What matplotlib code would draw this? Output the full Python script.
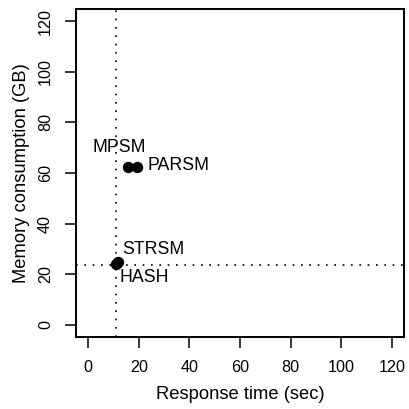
import matplotlib
matplotlib.use("Agg")
import matplotlib.pyplot as plt

plt.rcParams['font.family'] = ['Liberation Sans', 'DejaVu Sans']

names = ["MPSM", "PARSM", "STRSM", "HASH"]
resp_time = [15.9, 19.2, 11.8, 11.0]
memory = [62.5, 62.5, 25.0, 24.0]
# label offsets in points (dx, dy) and alignment
label_pos = {
    "MPSM": (-6.5, 14, "center"),
    "PARSM": (8, 1, "left"),
    "STRSM": (3, 8.5, "left"),
    "HASH": (2.5, -10, "left"),
}
ref_x = 10.9
ref_y = 23.7
xticks = [0, 20, 40, 60, 80, 100, 120]
yticks = [0, 20, 40, 60, 80, 100, 120]

fig = plt.figure(figsize=(4.09, 4.09), dpi=100)
ax = fig.add_axes([76/409, 1 - 337/409, 328/409, 328/409])

ax.axvline(ref_x, color='black', linestyle=(0, (1, 4)), linewidth=1.2)
ax.axhline(ref_y, color='black', linestyle=(0, (1, 4)), linewidth=1.2)
ax.plot(resp_time, memory, 'o', color='black', markersize=7.2, linestyle='none', zorder=5)

for n, x, y in zip(names, resp_time, memory):
    dx, dy, ha = label_pos[n]
    ax.annotate(n, (x, y), xytext=(dx, dy), textcoords='offset points',
                ha=ha, va='center', fontsize=12.8)

ax.set_xlim(-4.8, 124.8)
ax.set_ylim(-4.8, 124.8)
ax.set_xticks(xticks)
ax.set_yticks(yticks)
ax.tick_params(labelsize=11.6, length=8, width=1.1, pad=8.5)
plt.setp(ax.get_yticklabels(), rotation=90, va='center')
for s in ax.spines.values():
    s.set_linewidth(1.4)

ax.set_xlabel("Response time (sec)", fontsize=13.2, labelpad=8)
ax.set_ylabel("Memory consumption (GB)", fontsize=13.2, labelpad=6)

fig.savefig("out.png", dpi=100)
